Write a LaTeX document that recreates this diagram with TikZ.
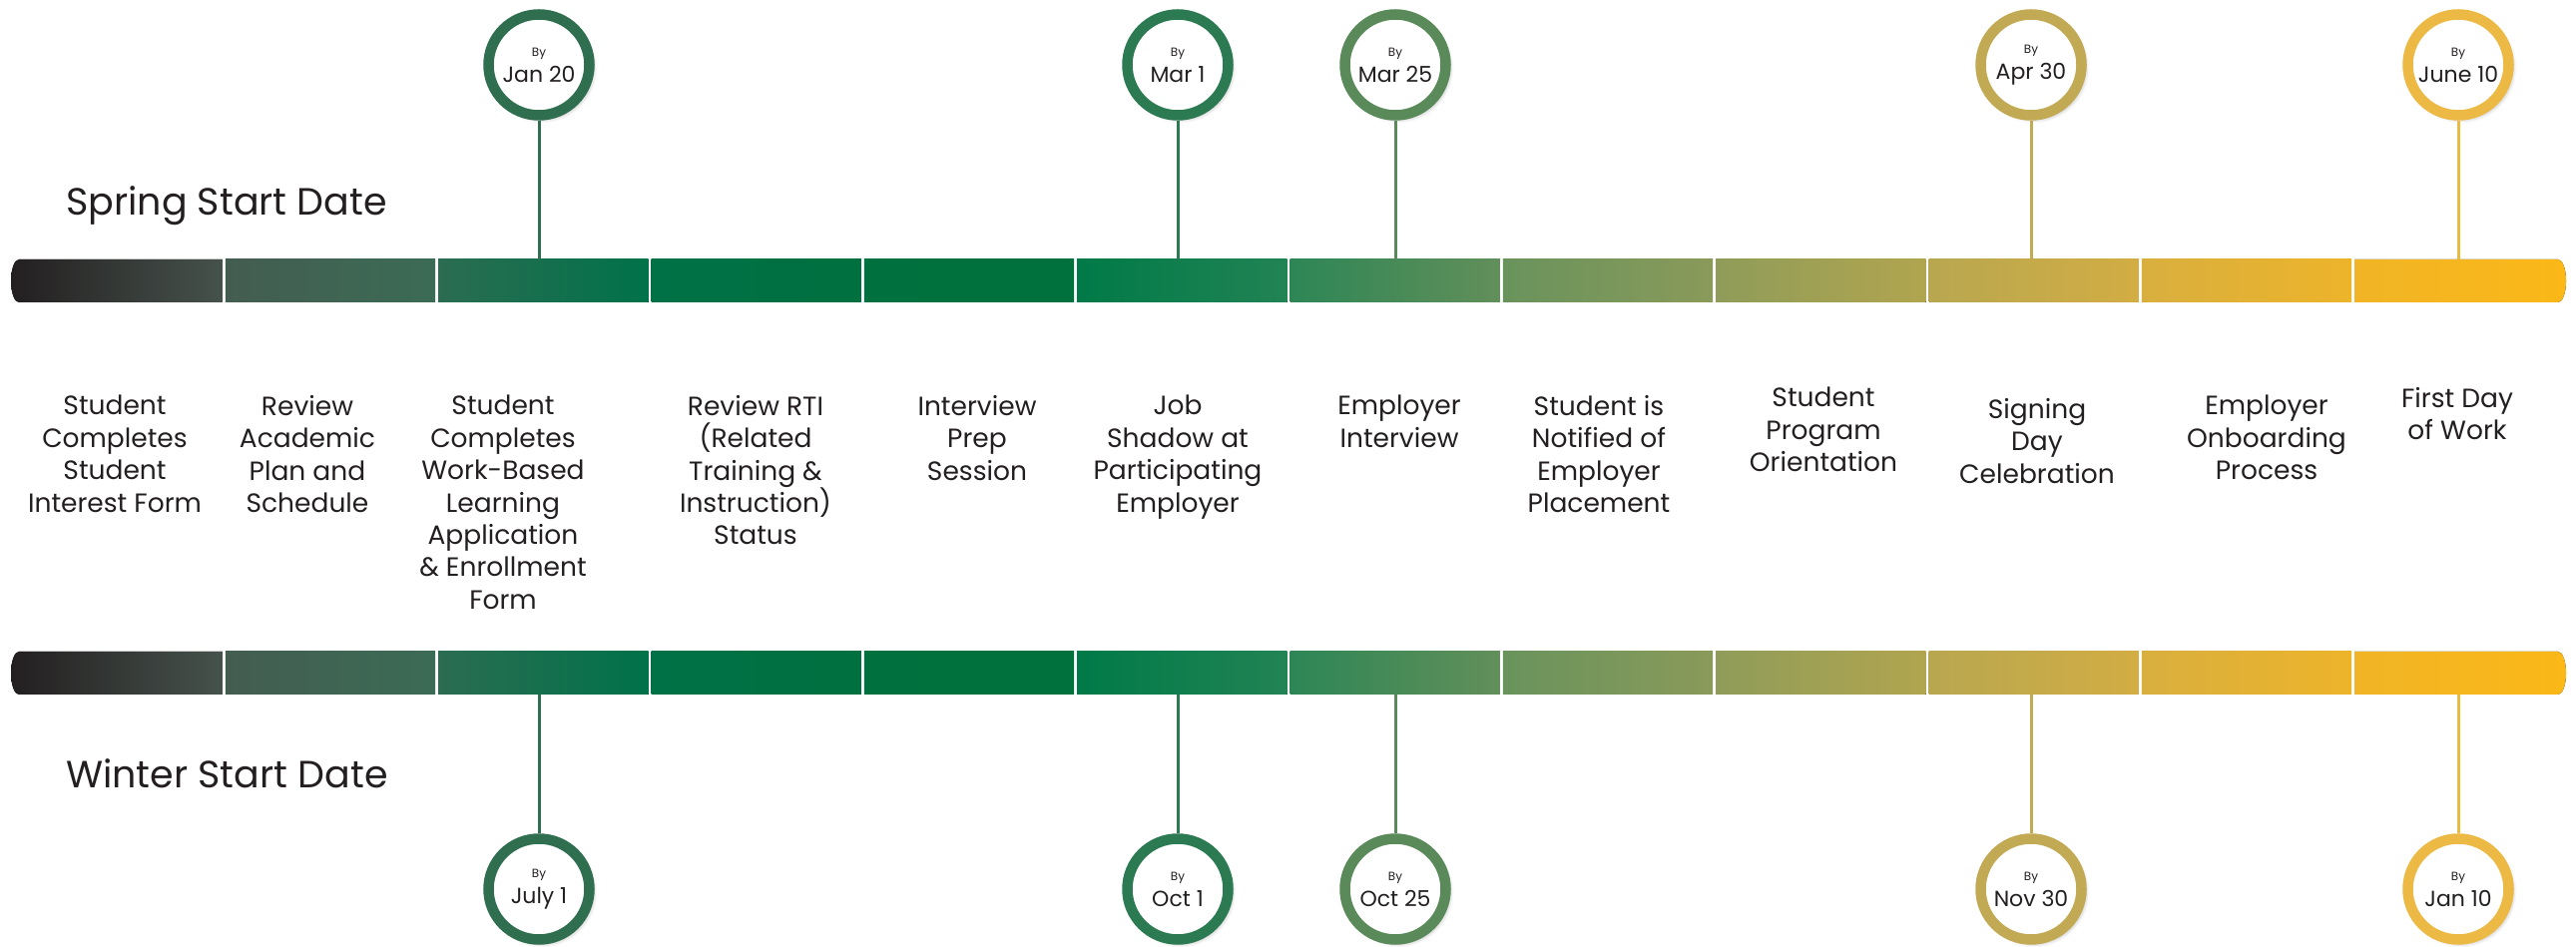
\documentclass[tikz,border=0pt]{standalone}
\usepackage{fontspec}
\setmainfont{Poppins}
\usetikzlibrary{shadows.blur}
\definecolor{ink}{HTML}{231F20}
\definecolor{sA1}{HTML}{231F20}\definecolor{sB1}{HTML}{46524C}
\definecolor{sA2}{HTML}{445D51}\definecolor{sB2}{HTML}{3B6B55}
\definecolor{sA3}{HTML}{2B6C52}\definecolor{sB3}{HTML}{00724A}
\definecolor{sA4}{HTML}{007146}\definecolor{sB4}{HTML}{007040}
\definecolor{sA5}{HTML}{00703E}\definecolor{sB5}{HTML}{00703C}
\definecolor{sA6}{HTML}{007A48}\definecolor{sB6}{HTML}{228354}
\definecolor{sA7}{HTML}{2D8656}\definecolor{sB7}{HTML}{628F5A}
\definecolor{sA8}{HTML}{69935C}\definecolor{sB8}{HTML}{8A9A5A}
\definecolor{sA9}{HTML}{8F9C59}\definecolor{sB9}{HTML}{B1A54F}
\definecolor{sA10}{HTML}{B8A750}\definecolor{sB10}{HTML}{D2AD43}
\definecolor{sA11}{HTML}{D8AF3F}\definecolor{sB11}{HTML}{EDB42A}
\definecolor{sA12}{HTML}{F0B426}\definecolor{sB12}{HTML}{FBB817}
\definecolor{cJan}{HTML}{306E50}
\definecolor{cMar}{HTML}{2B7A52}
\definecolor{cMtf}{HTML}{5A8A5A}
\definecolor{cApr}{HTML}{C2AA54}
\definecolor{cJun}{HTML}{ECB944}
\newcommand\timelinebar[1]{%
  \foreach \i in {1,...,12}{%
    \pgfmathsetmacro\xl{11+213.333*(\i-1)+1.5}%
    \pgfmathsetmacro\xr{11+213.333*\i-1.5}%
    \ifnum\i=1
      \fill[left color=sA\i, right color=sB\i] (19,#1+21.5) -- (\xr,#1+21.5) -- (\xr,#1-21.5) -- (19,#1-21.5)
        arc[start angle=-90, end angle=-270, x radius=8, y radius=21.5] -- cycle;
    \else\ifnum\i=12
      \fill[left color=sA\i, right color=sB\i] (\xl,#1+21.5) -- (2563,#1+21.5)
        arc[start angle=90, end angle=-90, x radius=8, y radius=21.5] -- (\xl,#1-21.5) -- cycle;
    \else
      \fill[left color=sA\i, right color=sB\i] (\xl,#1-21.5) rectangle (\xr,#1+21.5);
    \fi\fi
  }%
}
\begin{document}
\begin{tikzpicture}[x=1pt,y=1pt,
  lbl/.style={align=center, anchor=north, inner sep=0pt, font=\fontsize{26.5}{32.4}\selectfont, text=ink},
  hdr/.style={anchor=west, inner sep=0pt, font=\fontsize{38}{44}\selectfont, text=ink},
  datec/.style={circle, draw=#1, line width=10.5pt, fill=white, minimum size=101pt, inner sep=0pt,
    align=center, text=ink, font=\fontsize{22}{22}\selectfont,
    blur shadow={shadow xshift=3pt, shadow yshift=-3pt, shadow blur radius=5pt, shadow opacity=40}},
  conn/.style={draw=#1, line width=3pt}]
\useasboundingbox (0,0) rectangle (2581,948);

% bars
\timelinebar{666.5}
\timelinebar{273.5}

% headings
\node[hdr] (spring) at (66,742) {Spring Start Date};
\node[hdr] (winter) at (66,173) {Winter Start Date};

% bar attachment points
\coordinate (t1) at (540,688);  \coordinate (b1) at (540,252);
\coordinate (t2) at (1180,688); \coordinate (b2) at (1180,252);
\coordinate (t3) at (1398,688); \coordinate (b3) at (1398,252);
\coordinate (t4) at (2035,688); \coordinate (b4) at (2035,252);
\coordinate (t5) at (2463,688); \coordinate (b5) at (2463,252);

% top date circles
\node[datec=cJan] (s1) at (540,883) {{\fontsize{12}{12}\selectfont By}\\[4pt]Jan 20};
\node[datec=cMar] (s2) at (1180,883) {{\fontsize{12}{12}\selectfont By}\\[4pt]Mar 1};
\node[datec=cMtf] (s3) at (1398,883) {{\fontsize{12}{12}\selectfont By}\\[4pt]Mar 25};
\node[datec=cApr] (s4) at (2035,883) {{\fontsize{12}{12}\selectfont By}\\[4pt]Apr 30};
\node[datec=cJun] (s5) at (2463,883) {{\fontsize{12}{12}\selectfont By}\\[4pt]June 10};

% bottom date circles
\node[datec=cJan] (w1) at (540,57) {{\fontsize{12}{12}\selectfont By}\\[4pt]July 1};
\node[datec=cMar] (w2) at (1180,57) {{\fontsize{12}{12}\selectfont By}\\[4pt]Oct 1};
\node[datec=cMtf] (w3) at (1398,57) {{\fontsize{12}{12}\selectfont By}\\[4pt]Oct 25};
\node[datec=cApr] (w4) at (2035,57) {{\fontsize{12}{12}\selectfont By}\\[4pt]Nov 30};
\node[datec=cJun] (w5) at (2463,57) {{\fontsize{12}{12}\selectfont By}\\[4pt]Jan 10};

% connectors
\draw[conn=cJan] (s1) -- (t1);
\draw[conn=cMar] (s2) -- (t2);
\draw[conn=cMtf] (s3) -- (t3);
\draw[conn=cApr] (s4) -- (t4);
\draw[conn=cJun] (s5) -- (t5);
\draw[conn=cJan] (b1) -- (w1);
\draw[conn=cMar] (b2) -- (w2);
\draw[conn=cMtf] (b3) -- (w3);
\draw[conn=cApr] (b4) -- (w4);
\draw[conn=cJun] (b5) -- (w5);

% step labels
\node[lbl] (l1) at (115,552) {Student\\Completes\\Student\\Interest Form};
\node[lbl] (l2) at (308,552) {Review\\Academic\\Plan and\\Schedule};
\node[lbl] (l3) at (504,552) {Student\\Completes\\Work-Based\\Learning\\Application\\\& Enrollment\\Form};
\node[lbl] (l4) at (757,552) {Review RTI\\(Related\\Training \&\\Instruction)\\Status};
\node[lbl] (l5) at (979,552) {Interview\\Prep\\Session};
\node[lbl] (l6) at (1180,552) {Job\\Shadow at\\Participating\\Employer};
\node[lbl] (l7) at (1402,552) {Employer\\Interview};
\node[lbl] (l8) at (1602,552) {Student is\\Notified of\\Employer\\Placement};
\node[lbl] (l9) at (1827,560) {Student\\Program\\Orientation};
\node[lbl] (l10) at (2041,549) {Signing\\Day\\Celebration};
\node[lbl] (l11) at (2271,552) {Employer\\Onboarding\\Process};
\node[lbl] (l12) at (2462,560) {First Day\\of Work};
\end{tikzpicture}
\end{document}
